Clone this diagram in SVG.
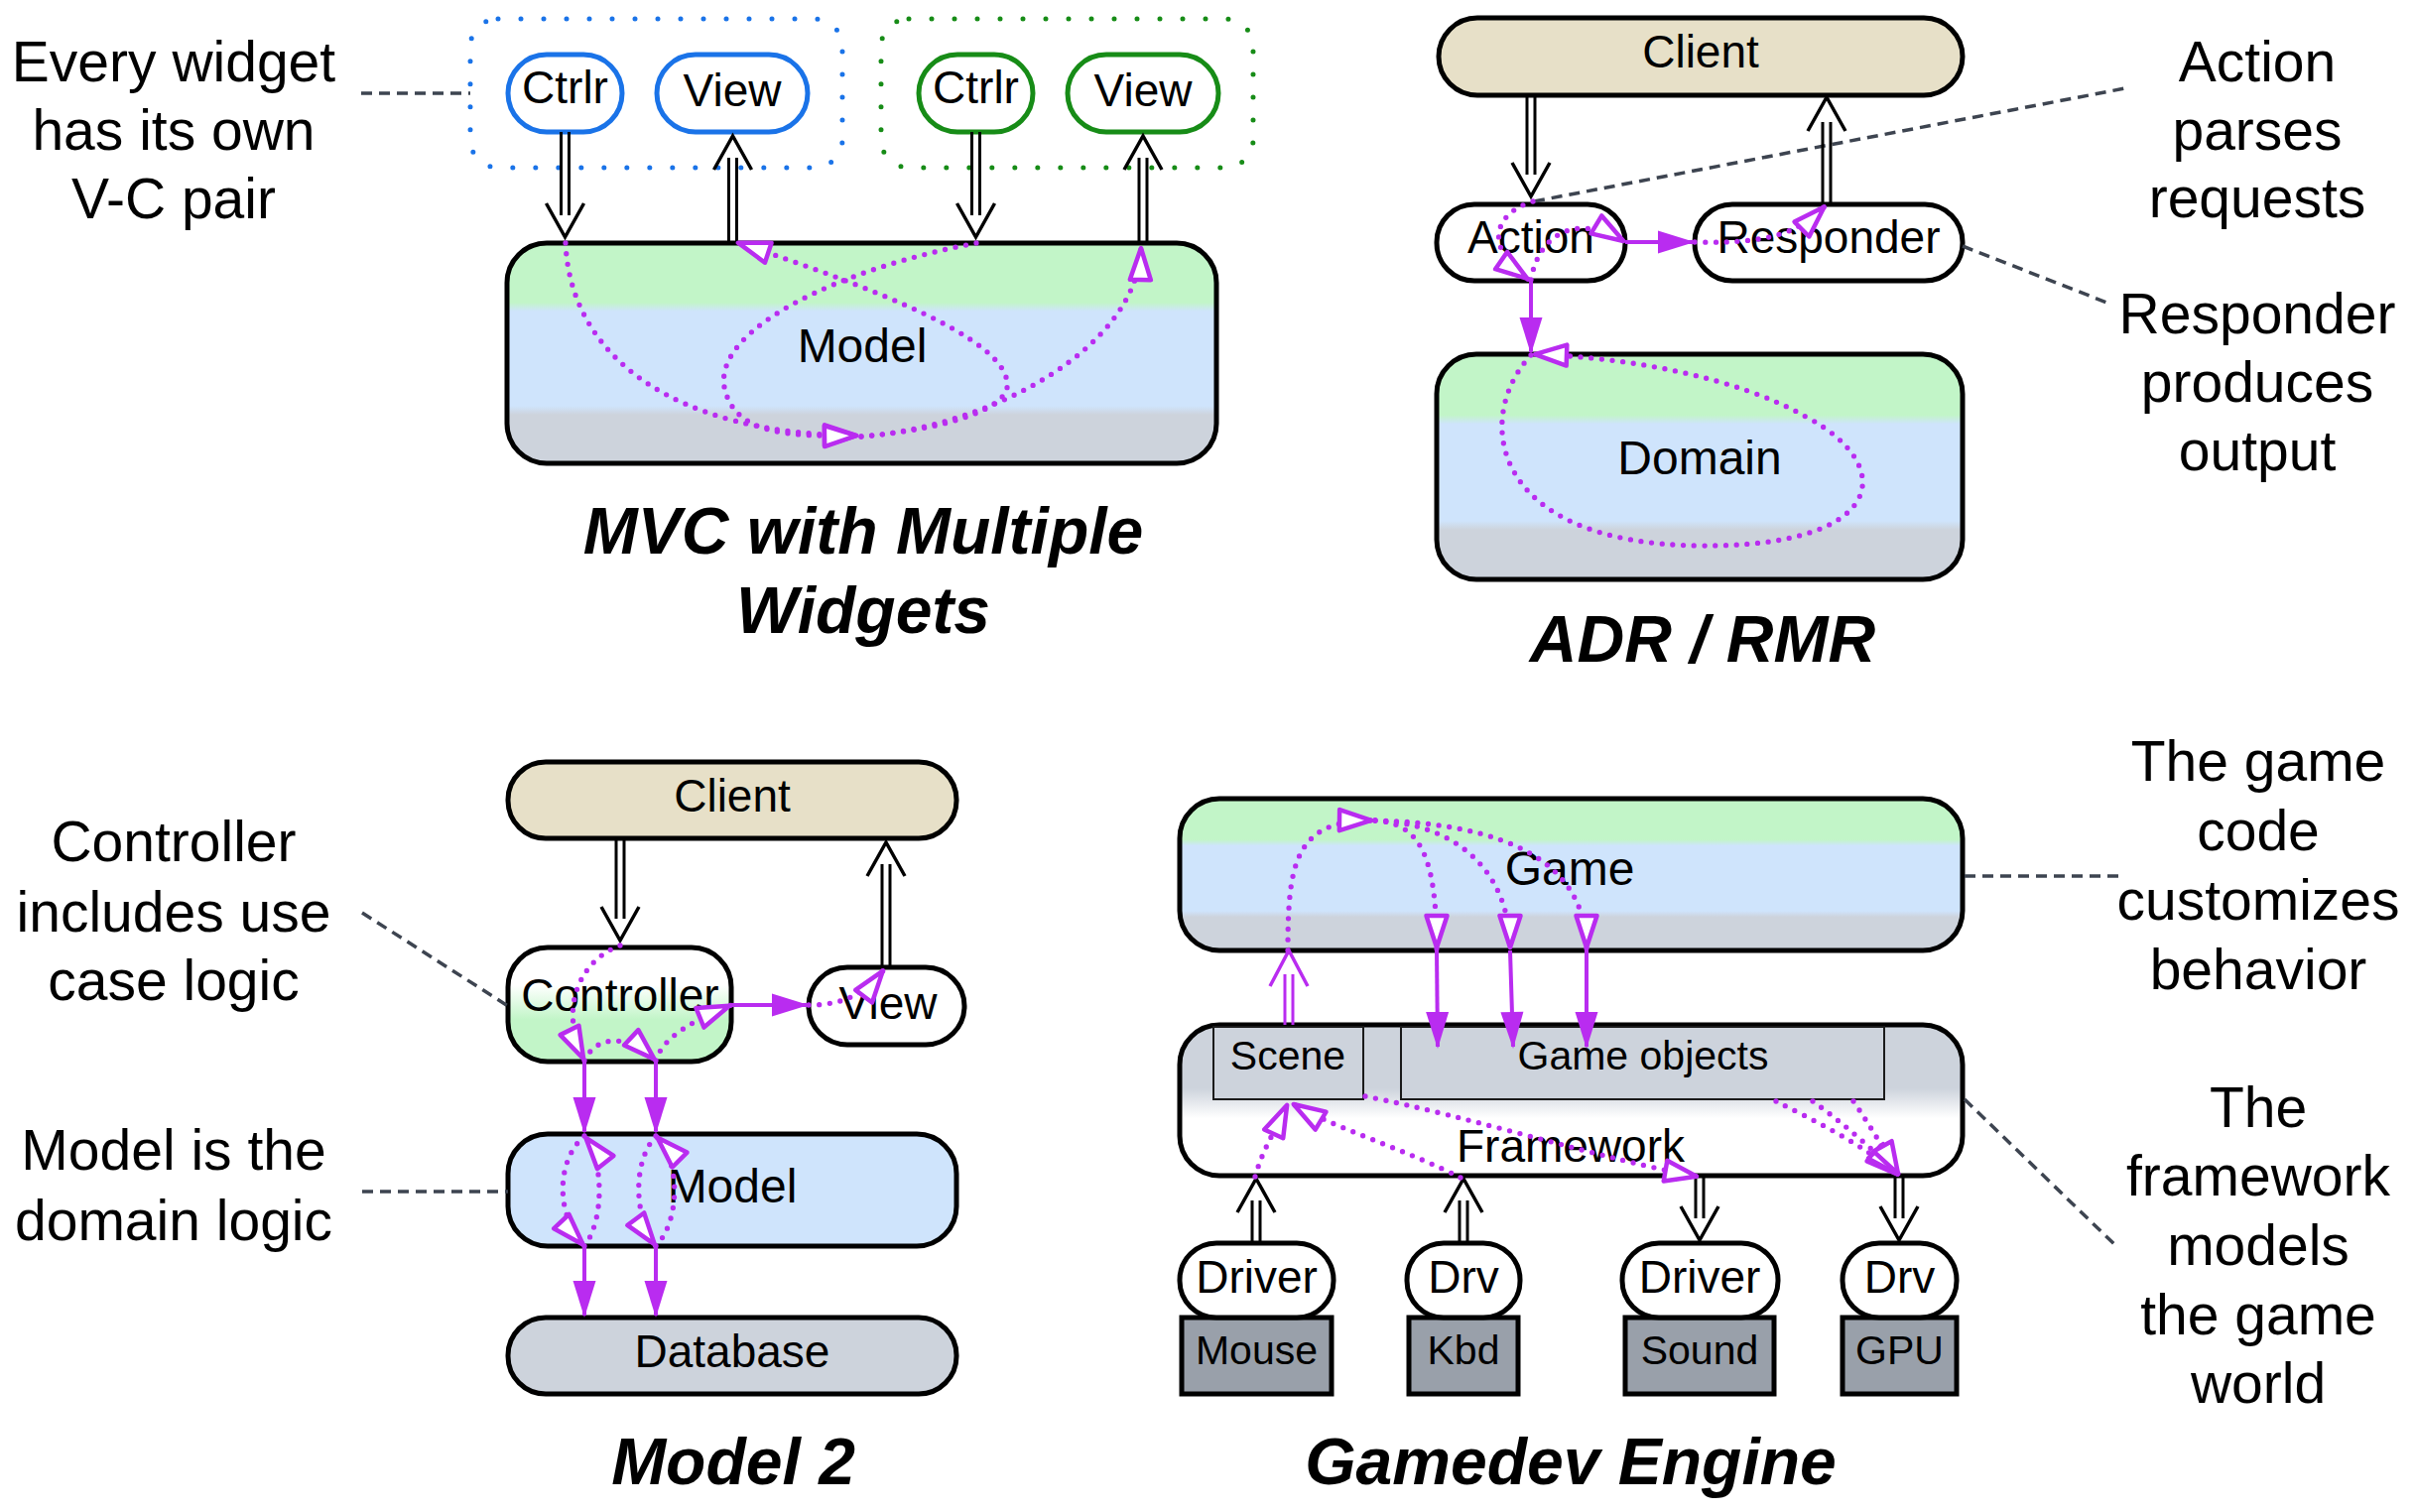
<svg xmlns="http://www.w3.org/2000/svg" width="2434" height="1524" viewBox="0 0 2434 1524">
<defs>
<style>
text{font-family:"Liberation Sans",Arial,sans-serif;fill:#000;text-anchor:middle}
.ann{font-size:57px}
.lbl{font-size:46px}
.big{font-size:48px}
.sm{font-size:41px}
.ttl{font-size:66px;font-weight:bold;font-style:italic}
.box{stroke:#000;stroke-width:5}
.bl{fill:#fff;stroke:#1a73e8;stroke-width:5}
.gr{fill:#fff;stroke:#178c17;stroke-width:5}
.thin{stroke:#1a1a1a;stroke-width:2;fill:#cdd3dc}
.dev{fill:#99a0aa;stroke:#000;stroke-width:5}
.note{stroke:#3d4450;stroke-width:3.5;stroke-dasharray:11 7;fill:none}
.dl{stroke:#000;stroke-width:3;fill:none}
.vee{stroke:#000;stroke-width:3.5;fill:none}
.pdl{stroke:#b92cf0;stroke-width:3;fill:none}
.pvee{stroke:#b92cf0;stroke-width:3.5;fill:none}
.sol{stroke:#b92cf0;stroke-width:4;fill:none;marker-end:url(#fa)}
.dot{stroke:#b92cf0;stroke-width:5.3;fill:none;stroke-dasharray:0 10.7;stroke-linecap:round;marker-end:url(#oa)}
</style>
<marker id="oa" markerUnits="userSpaceOnUse" orient="auto" overflow="visible" markerWidth="40" markerHeight="30" refX="0" refY="0">
<polygon points="-34,-10.5 -2,0 -34,10.5" fill="#fff" stroke="#b92cf0" stroke-width="4.5" stroke-linejoin="round"/>
</marker>
<marker id="fa" markerUnits="userSpaceOnUse" orient="auto" overflow="visible" markerWidth="40" markerHeight="30" refX="0" refY="0">
<polygon points="-35,-11.5 2,0 -35,11.5" fill="#b92cf0"/>
</marker>
<linearGradient id="g3" x1="0" y1="0" x2="0" y2="1">
<stop offset="0" stop-color="#c2f5c8"/><stop offset="0.27" stop-color="#c2f5c8"/>
<stop offset="0.31" stop-color="#cfe4fc"/><stop offset="0.74" stop-color="#cfe4fc"/>
<stop offset="0.78" stop-color="#cdd3dc"/><stop offset="1" stop-color="#cdd3dc"/>
</linearGradient>
<linearGradient id="gf" x1="0" y1="0" x2="0" y2="1">
<stop offset="0" stop-color="#cdd3dc"/><stop offset="0.42" stop-color="#cdd3dc"/>
<stop offset="0.62" stop-color="#fff"/><stop offset="1" stop-color="#fff"/>
</linearGradient>
<linearGradient id="gc" x1="0" y1="0" x2="0" y2="1">
<stop offset="0" stop-color="#fff"/><stop offset="0.33" stop-color="#fff"/>
<stop offset="0.63" stop-color="#c2f5c8"/><stop offset="1" stop-color="#c2f5c8"/>
</linearGradient>
</defs>
<rect width="2434" height="1524" fill="#fff"/>

<!-- ===== Panel 1: MVC with Multiple Widgets ===== -->
<g id="mvc-widget1"><rect x="474" y="19" width="375" height="150" rx="28" fill="none" stroke="#1a73e8" stroke-width="5" stroke-dasharray="0 23" stroke-linecap="round"/></g>
<g id="mvc-widget2"><rect x="888" y="19" width="375" height="150" rx="28" fill="none" stroke="#178c17" stroke-width="5" stroke-dasharray="0 23" stroke-linecap="round"/></g>
<g id="mvc-ctrlr1"><rect class="bl" x="512" y="55" width="115" height="78" rx="39"/><text class="lbl" x="569.5" y="104">Ctrlr</text></g>
<g id="mvc-view1"><rect class="bl" x="662" y="55" width="152" height="78" rx="39"/><text class="lbl" x="738" y="107">View</text></g>
<g id="mvc-ctrlr2"><rect class="gr" x="926" y="55" width="115" height="78" rx="39"/><text class="lbl" x="983.5" y="104">Ctrlr</text></g>
<g id="mvc-view2"><rect class="gr" x="1076" y="55" width="152" height="78" rx="39"/><text class="lbl" x="1152" y="107">View</text></g>
<g id="mvc-model"><rect class="box" x="511" y="245" width="715" height="222" rx="40" fill="url(#g3)"/><text class="big" x="869" y="365">Model</text></g>
<g id="note-widget"><text class="ann" x="175" y="82">Every widget</text><text class="ann" x="175" y="151">has its own</text><text class="ann" x="175" y="220">V-C pair</text></g>
<g id="title-mvc"><text class="ttl" x="870" y="558">MVC with Multiple</text><text class="ttl" x="870" y="638">Widgets</text></g>

<!-- ===== Panel 2: ADR ===== -->
<g id="adr-client"><rect class="box" x="1450" y="18" width="528" height="78" rx="39" fill="#e7e0c8"/><text class="lbl" x="1714" y="68">Client</text></g>
<g id="adr-action"><rect class="box" x="1448" y="206" width="190" height="77" rx="38" fill="#fff"/><text class="lbl" x="1543" y="255">Action</text></g>
<g id="adr-responder"><rect class="box" x="1708" y="206" width="270" height="77" rx="38" fill="#fff"/><text class="lbl" x="1843" y="255">Responder</text></g>
<g id="adr-domain"><rect class="box" x="1448" y="357" width="530" height="227" rx="40" fill="url(#g3)"/><text class="big" x="1713" y="478">Domain</text></g>
<g id="note-action"><text class="ann" x="2275" y="82">Action</text><text class="ann" x="2275" y="151">parses</text><text class="ann" x="2275" y="219">requests</text></g>
<g id="note-responder"><text class="ann" x="2275" y="336">Responder</text><text class="ann" x="2275" y="405">produces</text><text class="ann" x="2275" y="474">output</text></g>
<g id="title-adr"><text class="ttl" x="1716" y="667">ADR / RMR</text></g>

<!-- ===== Panel 3: Model 2 ===== -->
<g id="m2-client"><rect class="box" x="512" y="768" width="452" height="77" rx="38" fill="#e7e0c8"/><text class="lbl" x="738" y="818">Client</text></g>
<g id="m2-controller"><rect class="box" x="512" y="955" width="225" height="115" rx="40" fill="url(#gc)"/><text class="lbl" x="625" y="1019">Controller</text></g>
<g id="m2-view"><rect class="box" x="815" y="975" width="157" height="78" rx="39" fill="#fff"/><text class="lbl" x="895" y="1027">View</text></g>
<g id="m2-model"><rect class="box" x="512" y="1143" width="452" height="113" rx="40" fill="#cfe4fc"/><text class="big" x="738" y="1212">Model</text></g>
<g id="m2-database"><rect class="box" x="512" y="1328" width="452" height="77" rx="38" fill="#cdd3dc"/><text class="lbl" x="738" y="1378">Database</text></g>
<g id="note-controller"><text class="ann" x="175" y="868">Controller</text><text class="ann" x="175" y="939">includes use</text><text class="ann" x="175" y="1008">case logic</text></g>
<g id="note-model"><text class="ann" x="175" y="1179">Model is the</text><text class="ann" x="175" y="1250">domain logic</text></g>
<g id="title-m2"><text class="ttl" x="739" y="1496">Model 2</text></g>

<!-- ===== Panel 4: Gamedev Engine ===== -->
<g id="ge-game"><rect class="box" x="1189" y="805" width="789" height="153" rx="40" fill="url(#g3)"/><text class="big" x="1582" y="892">Game</text></g>
<g id="ge-framework"><rect class="box" x="1189" y="1033" width="789" height="152" rx="40" fill="url(#gf)"/><text class="lbl" x="1583" y="1171">Framework</text></g>
<g id="ge-scene"><rect class="thin" x="1223" y="1035" width="151" height="73"/><text class="sm" x="1298" y="1078">Scene</text></g>
<g id="ge-objects"><rect class="thin" x="1412" y="1035" width="487" height="73"/><text class="sm" x="1656" y="1078">Game objects</text></g>
<g id="ge-mouse"><rect class="dev" x="1191" y="1328" width="151" height="77"/><text class="sm" x="1266.5" y="1375">Mouse</text></g>
<g id="ge-kbd"><rect class="dev" x="1420" y="1328" width="110" height="77"/><text class="sm" x="1475" y="1375">Kbd</text></g>
<g id="ge-sound"><rect class="dev" x="1638" y="1328" width="150" height="77"/><text class="sm" x="1713" y="1375">Sound</text></g>
<g id="ge-gpu"><rect class="dev" x="1857" y="1328" width="115" height="77"/><text class="sm" x="1914.5" y="1375">GPU</text></g>
<g id="ge-drv-mouse"><rect class="box" x="1189" y="1253" width="155" height="75" rx="37" fill="#fff"/><text class="lbl" x="1266.5" y="1303">Driver</text></g>
<g id="ge-drv-kbd"><rect class="box" x="1418" y="1253" width="114" height="75" rx="37" fill="#fff"/><text class="lbl" x="1475" y="1303">Drv</text></g>
<g id="ge-drv-sound"><rect class="box" x="1635" y="1253" width="157" height="75" rx="37" fill="#fff"/><text class="lbl" x="1713" y="1303">Driver</text></g>
<g id="ge-drv-gpu"><rect class="box" x="1857" y="1253" width="115" height="75" rx="37" fill="#fff"/><text class="lbl" x="1914.5" y="1303">Drv</text></g>
<g id="note-game"><text class="ann" x="2276" y="787">The game</text><text class="ann" x="2276" y="857">code</text><text class="ann" x="2276" y="927">customizes</text><text class="ann" x="2276" y="997">behavior</text></g>
<g id="note-framework"><text class="ann" x="2276" y="1136">The</text><text class="ann" x="2276" y="1205">framework</text><text class="ann" x="2276" y="1275">models</text><text class="ann" x="2276" y="1345">the game</text><text class="ann" x="2276" y="1414">world</text></g>
<g id="title-ge"><text class="ttl" x="1583" y="1496">Gamedev Engine</text></g>

<!-- ===== Connectors ===== -->
<g id="connectors">
<!-- annotation leaders -->
<line class="note" x1="364" y1="94" x2="474" y2="94"/>
<line class="note" x1="1546" y1="203" x2="2142" y2="89"/>
<line class="note" x1="1978" y1="248" x2="2126" y2="306"/>
<line class="note" x1="365" y1="920" x2="512" y2="1014"/>
<line class="note" x1="365" y1="1201" x2="512" y2="1201"/>
<line class="note" x1="1980" y1="883" x2="2135" y2="883"/>
<line class="note" x1="1980" y1="1108" x2="2135" y2="1258"/>

<!-- MVC double arrows -->
<line class="dl" x1="565.5" y1="133" x2="565.5" y2="217"/><line class="dl" x1="573.5" y1="133" x2="573.5" y2="217"/>
<polyline class="vee" points="550.5,205 569.5,239 588.5,205"/>
<line class="dl" x1="734.5" y1="244" x2="734.5" y2="159"/><line class="dl" x1="742.5" y1="244" x2="742.5" y2="159"/>
<polyline class="vee" points="719.5,171 738.5,137 757.5,171"/>
<line class="dl" x1="979.5" y1="133" x2="979.5" y2="217"/><line class="dl" x1="987.5" y1="133" x2="987.5" y2="217"/>
<polyline class="vee" points="964.5,205 983.5,239 1002.5,205"/>
<line class="dl" x1="1148" y1="244" x2="1148" y2="159"/><line class="dl" x1="1156" y1="244" x2="1156" y2="159"/>
<polyline class="vee" points="1133,171 1152,137 1171,171"/>
<!-- MVC purple flows -->
<path class="dot" d="M570 245 C575 360 680 438 865 439"/>
<path class="dot" d="M984 245 C850 270 720 330 730 390 C740 440 800 440 865 439"/>
<path class="dot" d="M868 440 C960 432 1020 410 1015 385 C1010 340 880 290 742 244"/>
<path class="dot" d="M868 440 C1000 430 1148 350 1150 248"/>

<!-- ADR double arrows -->
<line class="dl" x1="1539" y1="96" x2="1539" y2="176"/><line class="dl" x1="1547" y1="96" x2="1547" y2="176"/>
<polyline class="vee" points="1524,164 1543,198 1562,164"/>
<line class="dl" x1="1837" y1="206" x2="1837" y2="123"/><line class="dl" x1="1845" y1="206" x2="1845" y2="123"/>
<polyline class="vee" points="1822,132 1841,98 1860,132"/>
<!-- ADR purple flows -->
<path class="sol" d="M1638 244 L1706 244"/>
<path class="sol" d="M1543 283 L1543 355"/>
<path class="dot" d="M1545 203 C1505 215 1495 250 1541 282"/>
<path class="dot" d="M1543 282 C1550 240 1585 212 1638 244"/>
<path class="dot" d="M1708 244 C1790 246 1815 232 1840 207"/>
<path class="dot" d="M1543 358 C1485 420 1500 548 1713 550 C1900 552 1915 470 1820 420 C1750 380 1640 360 1545 357"/>

<!-- Model 2 double arrows -->
<line class="dl" x1="621" y1="846" x2="621" y2="926"/><line class="dl" x1="629" y1="846" x2="629" y2="926"/>
<polyline class="vee" points="606,914 625,948 644,914"/>
<line class="dl" x1="889" y1="975" x2="889" y2="871"/><line class="dl" x1="897" y1="975" x2="897" y2="871"/>
<polyline class="vee" points="874,883 893,849 912,883"/>
<!-- Model 2 purple flows -->
<path class="sol" d="M737 1013 L813 1013"/>
<path class="sol" d="M589 1070 L589 1141"/>
<path class="sol" d="M661 1070 L661 1141"/>
<path class="sol" d="M589 1257 L589 1326"/>
<path class="sol" d="M661 1257 L661 1326"/>
<path class="dot" d="M625 953 C590 965 560 1010 589 1069"/>
<path class="dot" d="M589 1069 C600 1045 630 1040 661 1069"/>
<path class="dot" d="M661 1069 C668 1045 700 1028 737 1013"/>
<path class="dot" d="M815 1013 C845 1013 870 1005 891 977"/>
<path class="dot" d="M589 1145 C560 1170 560 1225 589 1256"/>
<path class="dot" d="M589 1256 C609 1230 609 1170 589 1145"/>
<path class="dot" d="M661 1145 C638 1170 638 1225 661 1256"/>
<path class="dot" d="M661 1256 C686 1230 686 1170 661 1145"/>

<!-- Gamedev double arrows -->
<line class="pdl" x1="1295" y1="1033" x2="1295" y2="982"/><line class="pdl" x1="1303" y1="1033" x2="1303" y2="982"/>
<polyline class="pvee" points="1280,994 1299,958 1318,994"/>
<line class="dl" x1="1262" y1="1253" x2="1262" y2="1210"/><line class="dl" x1="1270" y1="1253" x2="1270" y2="1210"/>
<polyline class="vee" points="1247,1222 1266,1188 1285,1222"/>
<line class="dl" x1="1471" y1="1253" x2="1471" y2="1210"/><line class="dl" x1="1479" y1="1253" x2="1479" y2="1210"/>
<polyline class="vee" points="1456,1222 1475,1188 1494,1222"/>
<line class="dl" x1="1709" y1="1186" x2="1709" y2="1228"/><line class="dl" x1="1717" y1="1186" x2="1717" y2="1228"/>
<polyline class="vee" points="1694,1216 1713,1250 1732,1216"/>
<line class="dl" x1="1910" y1="1186" x2="1910" y2="1228"/><line class="dl" x1="1918" y1="1186" x2="1918" y2="1228"/>
<polyline class="vee" points="1895,1216 1914,1250 1933,1216"/>
<!-- Gamedev purple flows -->
<path class="sol" d="M1448 958 L1449 1055"/>
<path class="sol" d="M1522 958 L1525 1055"/>
<path class="sol" d="M1599 958 L1599 1055"/>
<path class="dot" d="M1298 958 C1298 870 1305 826 1384 827"/>
<path class="dot" d="M1386 827 C1430 830 1448 860 1448 957"/>
<path class="dot" d="M1386 827 C1470 830 1522 880 1522 957"/>
<path class="dot" d="M1386 827 C1520 830 1599 870 1599 957"/>
<path class="dot" d="M1265 1186 C1272 1160 1285 1140 1298 1112"/>
<path class="dot" d="M1472 1187 C1420 1160 1340 1135 1302 1112"/>
<path class="dot" d="M1376 1105 C1480 1125 1620 1170 1712 1186"/>
<path class="dot" d="M1790 1110 C1830 1130 1880 1155 1914 1185"/>
<path class="dot" d="M1827 1110 C1855 1130 1890 1160 1914 1185"/>
<path class="dot" d="M1868 1110 C1885 1135 1900 1160 1914 1185"/>
</g>
</svg>
